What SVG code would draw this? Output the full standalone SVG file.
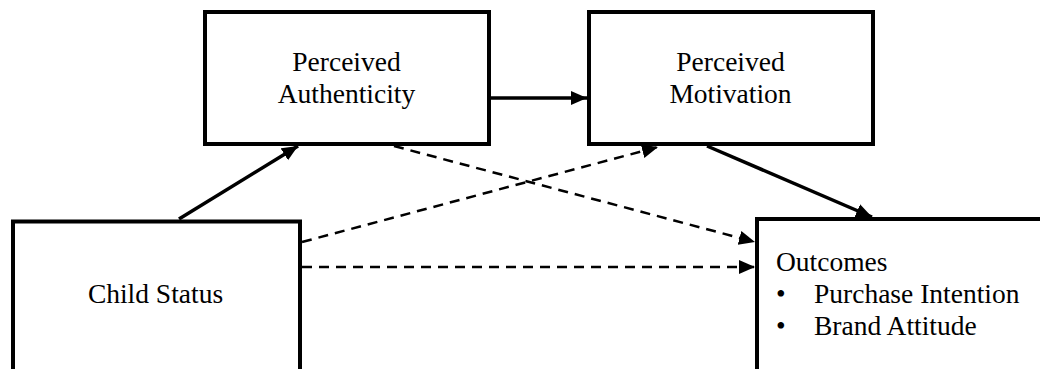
<svg xmlns="http://www.w3.org/2000/svg" width="1040" height="369" viewBox="0 0 1040 369">
  <style>
    .box { fill: #ffffff; stroke: #000000; stroke-width: 4; }
    .lbl { font-family: "Liberation Serif", "Times New Roman", serif; font-size: 27.5px; fill: #000000; }
    .solid { stroke: #000000; stroke-width: 3.5; fill: none; }
    .dash { stroke: #000000; stroke-width: 2.5; fill: none; stroke-dasharray: 10 7; }
  </style>
  <defs>
    <marker id="arrow" markerUnits="userSpaceOnUse" markerWidth="18" markerHeight="15" refX="16" refY="7" orient="auto">
      <path d="M0,0 L16,7 L0,14 z" fill="#000000"/>
    </marker>
  </defs>
  <rect width="1040" height="369" fill="#ffffff"/>

  <g id="node-authenticity">
    <rect class="box" x="205" y="12" width="284" height="132"/>
    <text class="lbl" x="346.5" y="71" text-anchor="middle">Perceived</text>
    <text class="lbl" x="346.5" y="103" text-anchor="middle">Authenticity</text>
  </g>

  <g id="node-motivation">
    <rect class="box" x="589" y="12" width="284" height="132"/>
    <text class="lbl" x="730.5" y="71" text-anchor="middle">Perceived</text>
    <text class="lbl" x="730.5" y="103" text-anchor="middle">Motivation</text>
  </g>

  <g id="node-child">
    <rect class="box" x="13" y="221.5" width="287" height="160"/>
    <text class="lbl" x="155.5" y="303" text-anchor="middle">Child Status</text>
  </g>

  <g id="node-outcomes">
    <rect class="box" x="757" y="219" width="300" height="170"/>
    <text class="lbl" x="776" y="271">Outcomes</text>
    <text class="lbl" x="776" y="303">•</text>
    <text class="lbl" x="814" y="303">Purchase Intention</text>
    <text class="lbl" x="776" y="335">•</text>
    <text class="lbl" x="814" y="335">Brand Attitude</text>
  </g>

  <g id="connectors">
    <line class="solid" x1="179" y1="219" x2="298" y2="146" marker-end="url(#arrow)"/>
    <line class="solid" x1="491" y1="98" x2="587" y2="98" marker-end="url(#arrow)"/>
    <line class="solid" x1="707" y1="146" x2="872" y2="217" marker-end="url(#arrow)"/>
    <line class="dash" x1="394" y1="146" x2="755" y2="242" marker-end="url(#arrow)"/>
    <line class="dash" x1="302" y1="242" x2="658" y2="147" marker-end="url(#arrow)"/>
    <line class="dash" x1="302" y1="267" x2="755" y2="267" marker-end="url(#arrow)"/>
  </g>
</svg>
